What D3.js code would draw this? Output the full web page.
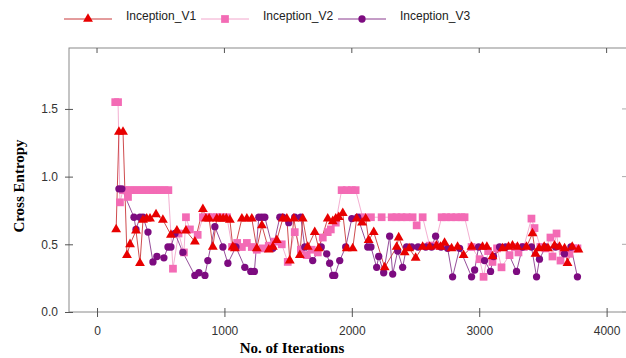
<!DOCTYPE html>
<html>
<head>
<meta charset="utf-8">
<script src="https://cdn.jsdelivr.net/npm/d3@7"></script>
<style>
  body { margin: 0; background: #fff; }
  svg { display: block; }
</style>
</head>
<body>
<svg id="chart" width="626" height="358"></svg>
<script>
// iterations / cross entropy
const v1 = [[150,0.61],[172,1.33],[204,1.33],[235,0.42],[259,0.50],[306,0.60],[337,0.36],[361,0.68],[390,0.69],[416,0.69],[463,0.72],[517,0.68],[580,0.57],[627,0.60],[698,0.60],[768,0.52],[831,0.76],[855,0.69],[880,0.69],[909,0.48],[940,0.69],[965,0.69],[990,0.69],[1015,0.69],[1043,0.68],[1066,0.48],[1082,0.47],[1137,0.69],[1176,0.69],[1215,0.69],[1254,0.47],[1294,0.64],[1348,0.46],[1380,0.48],[1411,0.53],[1458,0.69],[1490,0.69],[1513,0.38],[1545,0.69],[1592,0.42],[1615,0.69],[1654,0.48],[1709,0.59],[1740,0.47],[1811,0.69],[1850,0.67],[1874,0.69],[1897,0.70],[1929,0.73],[1960,0.47],[2007,0.47],[2038,0.69],[2080,0.66],[2109,0.69],[2132,0.53],[2172,0.59],[2258,0.33],[2352,0.48],[2368,0.55],[2415,0.44],[2450,0.47],[2501,0.40],[2556,0.48],[2611,0.48],[2665,0.49],[2697,0.48],[2728,0.51],[2783,0.47],[2830,0.48],[2877,0.42],[2940,0.48],[3026,0.48],[3060,0.48],[3104,0.41],[3183,0.47],[3230,0.48],[3261,0.49],[3300,0.48],[3371,0.48],[3418,0.58],[3442,0.43],[3470,0.47],[3510,0.48],[3540,0.47],[3591,0.49],[3630,0.48],[3670,0.47],[3693,0.36],[3730,0.48],[3779,0.46]];

const v2 = [[143,1.55],[165,1.55],[180,0.81],[204,0.90],[228,0.90],[243,0.85],[260,0.90],[290,0.90],[320,0.90],[350,0.90],[380,0.90],[410,0.90],[440,0.90],[470,0.90],[500,0.90],[530,0.90],[560,0.90],[596,0.32],[640,0.58],[682,0.44],[698,0.70],[729,0.61],[790,0.57],[831,0.70],[870,0.70],[900,0.70],[940,0.70],[980,0.70],[1020,0.70],[1060,0.48],[1100,0.51],[1137,0.48],[1176,0.51],[1215,0.48],[1254,0.46],[1301,0.47],[1348,0.49],[1395,0.52],[1450,0.50],[1497,0.37],[1552,0.59],[1600,0.46],[1646,0.42],[1685,0.46],[1733,0.44],[1772,0.55],[1811,0.59],[1835,0.61],[1874,0.66],[1920,0.90],[1960,0.90],[2000,0.90],[2030,0.90],[2085,0.70],[2150,0.70],[2234,0.70],[2313,0.70],[2350,0.70],[2390,0.70],[2430,0.70],[2477,0.70],[2509,0.64],[2556,0.70],[2611,0.49],[2650,0.49],[2705,0.70],[2740,0.70],[2780,0.70],[2820,0.70],[2860,0.70],[2885,0.70],[2940,0.48],[3003,0.39],[3034,0.26],[3070,0.45],[3104,0.37],[3140,0.47],[3175,0.33],[3238,0.42],[3280,0.48],[3308,0.44],[3350,0.48],[3410,0.69],[3434,0.62],[3480,0.48],[3520,0.47],[3559,0.55],[3575,0.41],[3607,0.58],[3638,0.38],[3660,0.45],[3708,0.43],[3740,0.47],[3771,0.47]];

const v3 = [[172,0.91],[195,0.91],[290,0.70],[306,0.61],[337,0.70],[361,0.70],[400,0.59],[439,0.37],[470,0.41],[525,0.40],[557,0.48],[580,0.48],[612,0.58],[674,0.44],[768,0.27],[800,0.29],[847,0.27],[870,0.38],[925,0.63],[988,0.48],[1027,0.36],[1090,0.48],[1160,0.33],[1207,0.30],[1235,0.30],[1270,0.70],[1294,0.70],[1317,0.70],[1380,0.47],[1435,0.70],[1458,0.70],[1505,0.66],[1552,0.70],[1599,0.70],[1631,0.48],[1693,0.38],[1760,0.48],[1803,0.43],[1826,0.36],[1850,0.27],[1866,0.27],[1905,0.38],[1952,0.48],[2000,0.69],[2046,0.70],[2125,0.48],[2150,0.48],[2195,0.33],[2211,0.41],[2250,0.29],[2297,0.56],[2321,0.28],[2360,0.45],[2399,0.33],[2430,0.48],[2470,0.48],[2520,0.48],[2580,0.48],[2626,0.48],[2658,0.56],[2700,0.48],[2752,0.47],[2791,0.26],[2846,0.47],[2940,0.26],[2964,0.31],[2995,0.48],[3042,0.38],[3089,0.30],[3112,0.41],[3160,0.48],[3207,0.48],[3293,0.30],[3340,0.48],[3410,0.48],[3450,0.26],[3473,0.39],[3520,0.48],[3600,0.48],[3669,0.43],[3720,0.48],[3771,0.26]];

const seriesNames = ["Inception_V1", "Inception_V2", "Inception_V3"];
const xTicks = [0, 1000, 2000, 3000, 4000];
const yTicks = [0, 0.5, 1.0, 1.5];

// drawn in this order: pink under purple under red
const series = [
  {name: seriesNames[1], data: v2, color: "#f36bb5", line: "#f2a6cc", shape: d3.symbolSquare, size: 60, legendX: 201},
  {name: seriesNames[2], data: v3, color: "#7d0b80", line: "#8a3b8e", shape: d3.symbolCircle, size: 42, legendX: 338},
  {name: seriesNames[0], data: v1, color: "#e80000", line: "#c8383a", shape: d3.symbolTriangle, size: 42, legendX: 64}
];

const svg = d3.select("#chart");
const pLeft = 69, pRight = 627, pTop = 48, pBottom = 312;

const x = d3.scaleLinear().domain([-220, 4160]).range([pLeft, pRight]);
const y = d3.scaleLinear().domain([0, 1.95]).range([pBottom, pTop]);

// frame
svg.append("rect")
  .attr("x", pLeft).attr("y", pTop)
  .attr("width", pRight - pLeft).attr("height", pBottom - pTop)
  .attr("fill", "none").attr("stroke", "#8a8a8a").attr("stroke-width", 1);

// bottom axis, ticks crossing the line
const gx = svg.append("g").attr("transform", `translate(0,${pBottom})`)
  .call(d3.axisBottom(x).tickValues(xTicks).tickFormat(d3.format("d")).tickSize(5).tickPadding(9));
gx.select(".domain").remove();
gx.selectAll(".tick line").attr("y1", -4).attr("stroke", "#555");

const gy = svg.append("g").attr("transform", `translate(${pLeft},0)`)
  .call(d3.axisLeft(y).tickValues(yTicks).tickFormat(d3.format(".1f")).tickSize(4).tickPadding(7));
gy.select(".domain").remove();
gy.selectAll(".tick line").attr("x1", 4).attr("stroke", "#555");

// inner ticks on top and right
svg.append("g").selectAll("line").data(xTicks).join("line")
  .attr("x1", d => x(d)).attr("x2", d => x(d))
  .attr("y1", pTop).attr("y2", pTop + 5)
  .attr("stroke", "#555");
svg.append("g").selectAll("line").data(yTicks).join("line")
  .attr("x1", pRight - 5).attr("x2", pRight)
  .attr("y1", d => y(d)).attr("y2", d => y(d))
  .attr("stroke", "#aaa");

svg.selectAll(".tick text")
  .style("font-family", "'Liberation Sans', Arial, sans-serif")
  .style("font-size", "12px").attr("fill", "#333");

const line = d3.line().x(d => x(d[0])).y(d => y(d[1]));

series.forEach(s => {
  svg.append("path")
    .datum(s.data)
    .attr("d", line)
    .attr("fill", "none")
    .attr("stroke", s.line)
    .attr("stroke-width", 0.9);
});

series.forEach(s => {
  svg.append("g").selectAll("path").data(s.data).join("path")
    .attr("d", d3.symbol().type(s.shape).size(s.size))
    .attr("transform", d => `translate(${x(d[0])},${y(d[1])})`)
    .attr("fill", s.color);
});

// legend
const leg = svg.append("g");
series.forEach(s => {
  const g = leg.append("g").attr("transform", `translate(${s.legendX},19)`);
  g.append("line").attr("x1", 0).attr("x2", 48).attr("y1", 0).attr("y2", 0)
    .attr("stroke", s.line).attr("stroke-width", 1);
  g.append("path").attr("d", d3.symbol().type(s.shape).size(s.size))
    .attr("transform", "translate(24,0)").attr("fill", s.color);
  g.append("text").attr("x", 62).attr("y", 0).attr("dy", "0.1em")
    .style("font-family", "'Liberation Sans', Arial, sans-serif").style("font-size", "12px")
    .attr("fill", "#222").text(s.name);
});

// axis titles
svg.append("text")
  .attr("x", 292).attr("y", 353)
  .attr("text-anchor", "middle")
  .style("font-family", "'Liberation Serif', 'Times New Roman', serif")
  .style("font-weight", "bold").style("font-size", "15px")
  .text("No. of Iterations");

svg.append("text")
  .attr("transform", "translate(24,186) rotate(-90)")
  .attr("text-anchor", "middle")
  .style("font-family", "'Liberation Serif', 'Times New Roman', serif")
  .style("font-weight", "bold").style("font-size", "15px")
  .text("Cross Entropy");
</script>
</body>
</html>
